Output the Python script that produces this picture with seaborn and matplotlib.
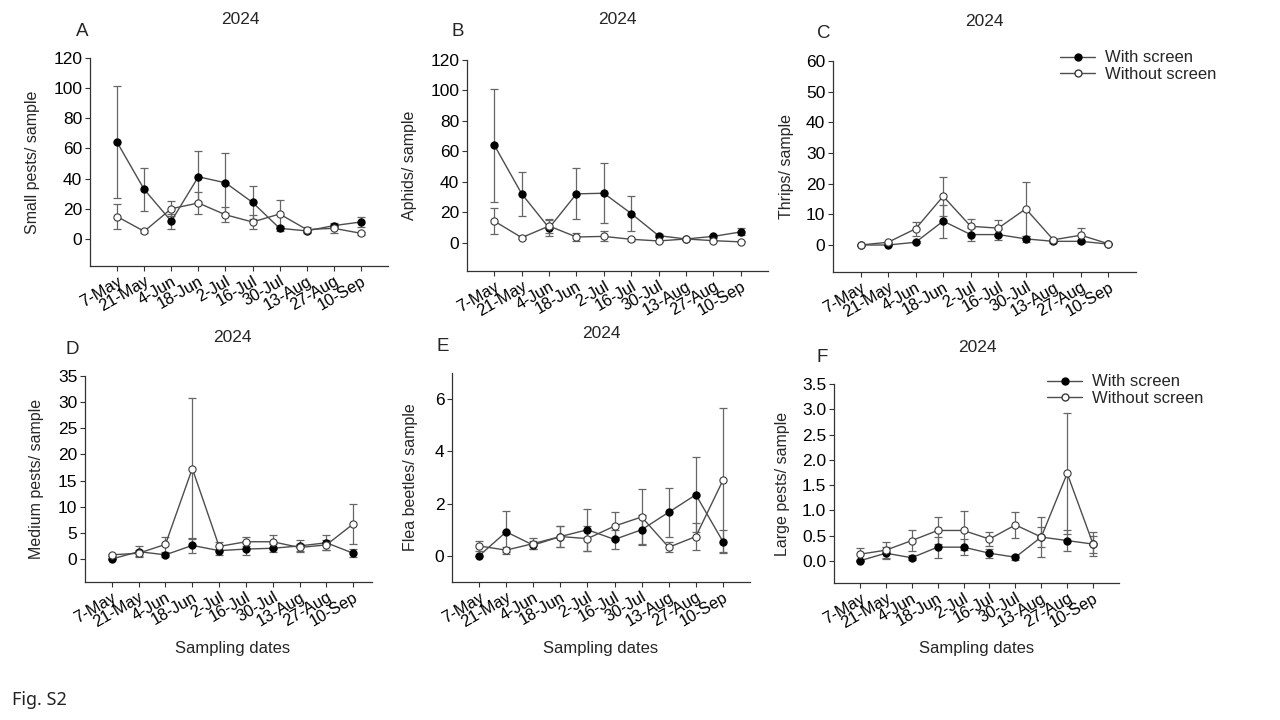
import numpy as np
import pandas as pd
import matplotlib
matplotlib.use('Agg')
import matplotlib.pyplot as plt
import matplotlib.transforms as mtransforms
from matplotlib.lines import Line2D
import seaborn as sns

# Sampling dates (x axis)
dates = ['7-May', '21-May', '4-Jun', '18-Jun', '2-Jul', '16-Jul',
         '30-Jul', '13-Aug', '27-Aug', '10-Sep']

# A - small pests
small_with = [64.1, 32.8, 11.7, 41.2, 37.2, 24.2, 7.0, 5.3, 8.8, 11.2]
small_with_se = [37.0, 14.3, 5.0, 17.0, 20.0, 11.0, 1.5, 1.0, 1.5, 3.0]
small_without = [14.8, 5.0, 20.0, 23.8, 16.0, 11.2, 16.5, 6.2, 7.0, 3.7]
small_without_se = [8.5, 1.0, 5.0, 7.4, 5.0, 4.7, 9.0, 2.0, 3.0, 1.0]

# B - aphids
aphid_with = [64.1, 32.2, 9.8, 32.2, 32.6, 19.3, 4.8, 2.6, 4.3, 7.2]
aphid_with_se = [37.0, 14.3, 5.0, 16.8, 19.8, 11.2, 1.0, 0.5, 0.8, 2.3]
aphid_without = [14.3, 3.5, 11.1, 3.9, 4.3, 2.4, 1.3, 2.6, 1.5, 0.7]
aphid_without_se = [8.4, 0.8, 4.5, 2.5, 3.3, 1.0, 0.5, 0.6, 0.5, 0.3]

# C - thrips
thrips_with = [0.0, 0.0, 0.9, 7.8, 3.4, 3.4, 2.0, 1.2, 1.2, 0.3]
thrips_with_se = [0.0, 0.0, 0.3, 5.4, 2.0, 1.8, 1.0, 0.4, 0.4, 0.1]
thrips_without = [0.0, 0.9, 5.3, 15.9, 6.1, 5.5, 11.8, 1.7, 3.2, 0.4]
thrips_without_se = [0.0, 0.2, 2.3, 6.3, 2.5, 2.7, 8.9, 0.3, 2.2, 0.1]

# D - medium pests
medium_with = [0.0, 1.4, 0.8, 2.6, 1.6, 1.9, 2.05, 2.5, 3.1, 1.1]
medium_with_se = [0.0, 1.1, 0.4, 1.5, 0.9, 1.2, 0.8, 1.1, 1.4, 0.8]
medium_without = [0.8, 1.1, 2.8, 17.3, 2.4, 3.3, 3.3, 2.2, 2.7, 6.7]
medium_without_se = [0.2, 0.6, 1.4, 13.4, 0.9, 0.9, 1.3, 0.7, 0.9, 3.9]

# E - flea beetles
flea_with = [0.0, 0.92, 0.41, 0.74, 1.0, 0.63, 1.0, 1.67, 2.34, 0.55]
flea_with_se = [0.0, 0.79, 0.15, 0.41, 0.81, 0.37, 0.55, 0.93, 1.43, 0.45]
flea_without = [0.38, 0.22, 0.47, 0.74, 0.66, 1.14, 1.49, 0.33, 0.74, 2.89]
flea_without_se = [0.18, 0.13, 0.22, 0.41, 0.47, 0.55, 1.07, 0.19, 0.52, 2.76]

# F - large pests
large_with = [0.0, 0.15, 0.06, 0.27, 0.27, 0.15, 0.07, 0.47, 0.40, 0.33]
large_with_se = [0.0, 0.12, 0.05, 0.21, 0.16, 0.09, 0.05, 0.20, 0.21, 0.17]
large_without = [0.13, 0.21, 0.40, 0.60, 0.60, 0.43, 0.71, 0.47, 1.73, 0.33]
large_without_se = [0.12, 0.16, 0.21, 0.27, 0.38, 0.13, 0.26, 0.40, 1.19, 0.23]

sns.set_style('ticks')
plt.rcParams['font.family'] = ['Liberation Sans', 'DejaVu Sans']

W, H = 1280, 720
fig = plt.figure(figsize=(12.8, 7.2), dpi=100)

line_col = '#4d4d4d'
err_col = '#666666'

# panel settings: letter, ylabel, data, axes box in px (left, right, top, bottom),
# ylim, yticks, xlim right, ylabel x, title/letter pos, legend
panels = [
    dict(letter='A', ylabel='Small pests/ sample',
         data=(small_with, small_with_se, small_without, small_without_se),
         box=(90, 388, 58, 266), ylim=(-18, 120), yticks=np.arange(0, 121, 20),
         xr=10.0, ylx=-0.168, title=(240, 20), let=(82, 32), legend=None, fmt='{:.0f}'),
    dict(letter='B', ylabel='Aphids/ sample',
         data=(aphid_with, aphid_with_se, aphid_without, aphid_without_se),
         box=(467, 768, 60, 271), ylim=(-18.4, 120), yticks=np.arange(0, 121, 20),
         xr=10.0, ylx=-0.166, title=(617, 20), let=(458, 32), legend=None, fmt='{:.0f}'),
    dict(letter='C', ylabel='Thrips/ sample',
         data=(thrips_with, thrips_with_se, thrips_without, thrips_without_se),
         box=(833, 1136, 61, 272), ylim=(-8.8, 60), yticks=np.arange(0, 61, 10),
         xr=10.0, ylx=-0.13, title=(984, 21), let=(824, 34), legend=(1060, 53), fmt='{:.0f}'),
    dict(letter='D', ylabel='Medium pests/ sample',
         data=(medium_with, medium_with_se, medium_without, medium_without_se),
         box=(85, 372, 376, 582), ylim=(-4.4, 35), yticks=np.arange(0, 36, 5),
         xr=9.7, ylx=-0.143, title=(232, 337), let=(72, 349), legend=None, fmt='{:.0f}'),
    dict(letter='E', ylabel='Flea beetles/ sample',
         data=(flea_with, flea_with_se, flea_without, flea_without_se),
         box=(452, 750, 373, 582), ylim=(-1, 7), yticks=np.arange(0, 7, 2),
         xr=10.0, ylx=-0.114, title=(601, 334), let=(443, 346), legend=None, fmt='{:.0f}'),
    dict(letter='F', ylabel='Large pests/ sample',
         data=(large_with, large_with_se, large_without, large_without_se),
         box=(834, 1119, 384, 583), ylim=(-0.44, 3.5), yticks=np.arange(0, 3.51, 0.5),
         xr=10.0, ylx=-0.154, title=(977, 347), let=(822, 358), legend=(1047, 377), fmt='{:.1f}'),
]

x = np.arange(len(dates))

for p in panels:
    l, r, t, b = p['box']
    ax = fig.add_axes([l / W, 1 - b / H, (r - l) / W, (b - t) / H])
    w_mean, w_se, wo_mean, wo_se = p['data']

    # error bars
    ax.errorbar(x, w_mean, yerr=w_se, fmt='none', ecolor=err_col,
                elinewidth=0.9, capsize=2.6, capthick=0.9, zorder=2)
    ax.errorbar(x, wo_mean, yerr=wo_se, fmt='none', ecolor=err_col,
                elinewidth=0.9, capsize=2.6, capthick=0.9, zorder=2)

    # lines + markers
    sns.lineplot(x=x, y=w_mean, ax=ax, color=line_col, linewidth=1.0,
                 marker='o', markersize=5.2, markerfacecolor='black',
                 markeredgecolor='black', markeredgewidth=0.8, zorder=3)
    sns.lineplot(x=x, y=wo_mean, ax=ax, color=line_col, linewidth=1.0,
                 marker='o', markersize=5.2, markerfacecolor='white',
                 markeredgecolor='#3a3a3a', markeredgewidth=0.8, zorder=4)

    ax.set_xlim(-1, p['xr'])
    ax.set_ylim(*p['ylim'])
    ax.set_yticks(p['yticks'])
    ax.set_yticklabels([p['fmt'].format(v) for v in p['yticks']], fontsize=12.5)
    ax.set_xticks(x)
    ax.set_xticklabels(dates, fontsize=11.8, rotation=30, ha='right',
                       rotation_mode='anchor')
    offset = mtransforms.ScaledTranslation(0.09, 0, fig.dpi_scale_trans)
    for lab in ax.get_xticklabels():
        lab.set_transform(lab.get_transform() + offset)

    ax.set_xlabel('')
    ax.set_ylabel(p['ylabel'], fontsize=11.5)
    ax.yaxis.set_label_coords(p['ylx'], 0.5)

    for s in ['top', 'right']:
        ax.spines[s].set_visible(False)
    for s in ['left', 'bottom']:
        ax.spines[s].set_color('#333333')
        ax.spines[s].set_linewidth(0.9)
    ax.tick_params(axis='both', direction='out', length=3.5, width=0.8,
                   color='#333333', pad=2, labelcolor='black')
    ax.grid(False)
    ax.set_facecolor('white')

    tx, ty = p['title']
    fig.text(tx / W, 1 - ty / H, '2024', ha='center', va='center', fontsize=12.5)
    lx, ly = p['let']
    fig.text(lx / W, 1 - ly / H, p['letter'], ha='center', va='center', fontsize=13.5)

    if p['legend'] is not None:
        gx, gy = p['legend']
        handles = [
            Line2D([0], [0], color=line_col, lw=1.0, marker='o', markersize=5,
                   markerfacecolor='black', markeredgecolor='black'),
            Line2D([0], [0], color=line_col, lw=1.0, marker='o', markersize=5,
                   markerfacecolor='white', markeredgecolor='#3a3a3a'),
        ]
        fig.legend(handles, ['With screen', 'Without screen'],
                   loc='upper left', bbox_to_anchor=((gx - 8) / W, 1 - (gy - 11) / H),
                   frameon=False, fontsize=12, handlelength=2.1,
                   handletextpad=0.6, labelspacing=0.1, borderpad=0)

# shared x labels on the bottom row
for cx in [233, 601, 977]:
    fig.text(cx / W, 1 - 648 / H, 'Sampling dates', ha='center', va='center',
             fontsize=12)

fig.text(12 / W, 1 - 700 / H, 'Fig. S2', ha='left', va='center',
         fontsize=13, color='#222222', family=['Noto Sans', 'DejaVu Sans'])

fig.savefig('out.png', dpi=100, facecolor='white')
